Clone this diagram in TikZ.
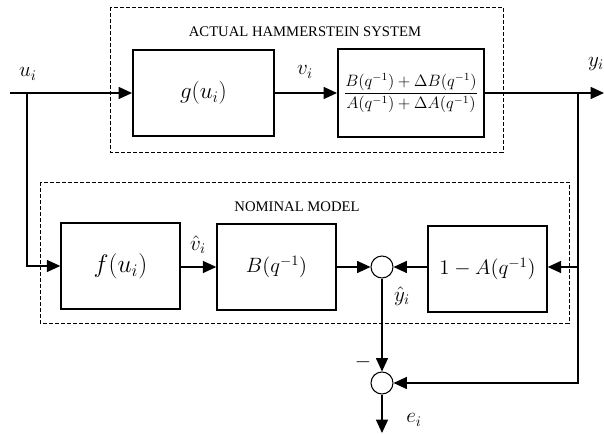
\documentclass[tikz,border=0pt]{standalone}
\usepackage{amsmath}
\usepackage{fontspec}
\setmainfont{Liberation Serif}
\usetikzlibrary{arrows.meta, positioning, calc}

\tikzset{
  block/.style={draw, line width=1.1pt, minimum width=89.25pt, minimum height=64.5pt, font=\fontsize{14.4}{17}\selectfont},
  bigblock/.style={block, line width=1.5pt},
  sumnode/.style={draw, circle, line width=0.8pt, minimum size=16.5pt, inner sep=0pt},
  frame/.style={draw, line width=0.6pt, dash pattern=on 3pt off 1.5pt},
  sig/.style={line width=0.9pt, -{Triangle[length=10pt,width=9pt]}},
  lbl/.style={font=\fontsize{14.4}{17}\selectfont},
  ttl/.style={font=\fontsize{11}{13}\selectfont}
}

\begin{document}
\begin{tikzpicture}[x=0.75pt,y=-0.75pt]
\useasboundingbox (0,0) rectangle (604,434);

% actual Hammerstein system
\draw[frame] (110,7) rectangle (503,152);
\node[ttl] (ttlA) at (305,32) {ACTUAL HAMMERSTEIN SYSTEM};
\node[bigblock, minimum width=105.75pt, font=\fontsize{17.28}{20}\selectfont] (g) at (203.5,93) {$g(u_i)$};
\node[bigblock, minimum width=109.5pt, minimum height=66pt, font=\fontsize{12}{15}\selectfont] (plant) at (411,93)
  {\scalebox{1.03}{$\dfrac{B(q^{-1})+\Delta B(q^{-1})}{A(q^{-1})+\Delta A(q^{-1})}$}};

% nominal model
\draw[frame] (40,182) rectangle (569,323);
\node[ttl] (ttlN) at (297,207) {NOMINAL MODEL};
\node[block, font=\fontsize{17.28}{20}\selectfont] (f) at (120.5,266) {\scalebox{1.1}{$f(u_i)$}};
\node[block] (B) at (276.5,267) {\scalebox{1.08}{$B(q^{-1})$}};
\node[block] (oneA) at (487.5,269) {\scalebox{1.09}{$1-A(q^{-1})$}};
\node[sumnode] (sum1) at (382,267) {};
\node[sumnode] (sum2) at (382,383) {};

% free ends and branch points
\coordinate (uin) at (10,93);
\coordinate (ubr) at (27,93);
\coordinate (yout) at (604,93);
\coordinate (ybr) at (578,93);
\coordinate (eout) at (382,433);

% connectors
\draw[sig] (uin) -- (g);
\draw[sig] (ubr) |- (f.west);
\draw[sig] (g) -- (plant);
\draw[sig] (plant) -- (yout);
\draw[sig] (ybr) |- (oneA.east |- sum1);
\draw[sig] (ybr) |- (sum2);
\draw[sig] (f.east |- B) -- (B);
\draw[sig] (B) -- (sum1);
\draw[sig] (oneA.west |- sum1) -- (sum1);
\draw[sig] (sum1) -- (sum2);
\draw[sig] (sum2) -- (eout);

% signal labels
\node[lbl] (lu) at (28,74) {\scalebox{1.1}{$u_i$}};
\node[lbl] (lv) at (305,72) {\scalebox{1.1}{$v_i$}};
\node[lbl] (ly) at (596,64) {\scalebox{1.1}{$y_i$}};
\node[lbl] (lvh) at (198,245) {\scalebox{1.1}{$\hat{v}_i$}};
\node[lbl] (lyh) at (402,296) {\scalebox{1.1}{$\hat{y}_i$}};
\node[lbl] (lm) at (363,362) {\scalebox{1.1}{$-$}};
\node[lbl] (le) at (414,420) {\scalebox{1.1}{$e_i$}};
\end{tikzpicture}
\end{document}
